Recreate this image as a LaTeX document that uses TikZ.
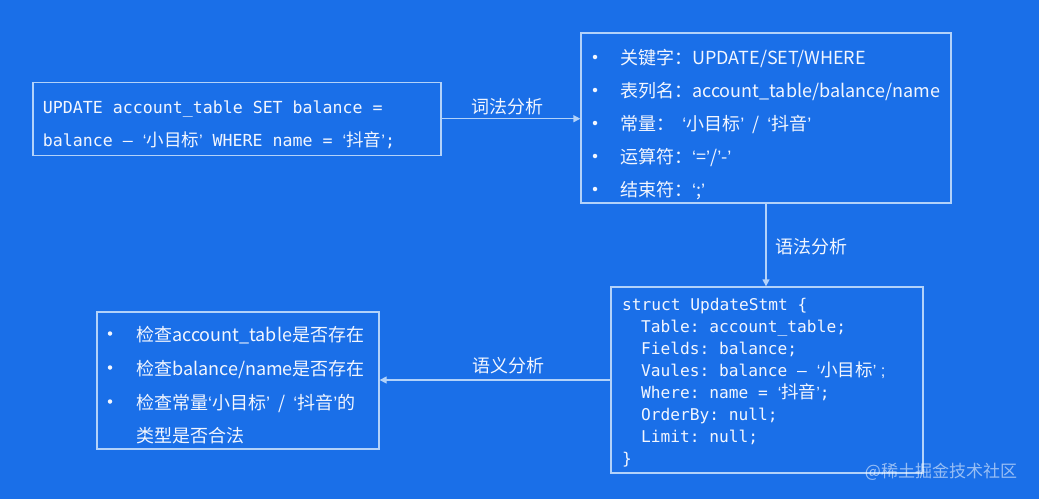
\documentclass[tikz,border=0pt]{standalone}
\usepackage{fontspec}
\setmainfont{Noto Sans CJK SC}
\setmonofont{DejaVu Sans Mono}
\newfontfamily\cjk{Noto Sans CJK SC}
\newfontfamily\qf{Liberation Sans}
\newcommand\qo{{\qf ‘}}
\newcommand\qc{{\qf ’}}
\newcommand\cj[1]{{\cjk\fontsize{17.5}{20}\selectfont #1}}
\usetikzlibrary{arrows.meta}
\definecolor{bg}{RGB}{26,111,232}
\definecolor{edge}{RGB}{178,210,250}
\definecolor{txt}{RGB}{242,246,255}
\begin{document}
\begin{tikzpicture}[x=1pt,y=-1pt,
  box/.style={draw=edge, line width=1.3pt, inner sep=0pt},
  mono/.style={anchor=base west, text=txt, font=\fontsize{16.2}{20}\ttfamily, inner sep=0pt},
  sans/.style={anchor=base west, text=txt, font=\fontsize{18}{22}\selectfont, inner sep=0pt},
  lbl/.style={text=txt, font=\fontsize{18}{22}\selectfont, inner sep=0pt},
  arr/.style={draw=edge, line width=1.3pt, -{Triangle[length=7pt,width=7pt]}},
  dot/.style={circle, fill=txt, inner sep=0pt, minimum size=4.5pt}]
\fill[bg] (0,0) rectangle (1039,499);
\useasboundingbox (0,0) rectangle (1039,499);

% boxes
\node[box, minimum width=408pt, minimum height=73pt] (b1) at (237,118.7) {};
\node[box, minimum width=370pt, minimum height=170pt] (b2) at (766,118) {};
\node[box, minimum width=312pt, minimum height=186pt] (b3) at (767,380) {};
\node[box, minimum width=282pt, minimum height=137pt] (b4) at (238,380.5) {};

% box 1 text
\node[mono, font=\fontsize{16.6}{20}\ttfamily] (b1a) at (42.7,113) {UPDATE account\_table SET balance =};
\node[mono, font=\fontsize{16.6}{20}\ttfamily] (b1b) at (42.7,146) {balance – \qo\cj{小目标}\qc{} WHERE name = \qo\cj{抖音}\qc;};

% box 2 text
\foreach \y/\n in {64/1,97/2,130/3,163/4,196/5} \node[dot] (b2d\n) at (595,\y-7) {};
\node[sans] (b2a) at (620,64) {关键字：UPDATE/SET/WHERE};
\node[sans] (b2b) at (620,97) {表列名：account\_table/balance/name};
\node[sans] (b2c) at (620,130) {常量：\ \ \qo 小目标\qc\ \ /\ \ \qo 抖音\qc};
\node[sans] (b2e) at (620,163) {运算符：\qo=\qc/\qc-\qc};
\node[sans] (b2f) at (620,196) {结束符：\qo;\qc};

% box 3 text
\node[mono] (b3a) at (622,310) {struct UpdateStmt \{};
\node[mono] (b3b) at (641,332) {Table: account\_table;};
\node[mono] (b3c) at (641,354) {Fields: balance;};
\node[mono] (b3d) at (641,376) {Vaules: balance – \qo\cj{小目标}\qc{\qf\ ;}};
\node[mono] (b3e) at (641,398) {Where: name = \qo\cj{抖音}\qc;};
\node[mono] (b3f) at (641,420) {OrderBy: null;};
\node[mono] (b3g) at (641,442) {Limit: null;};
\node[mono] (b3h) at (622,464) {\}};

% box 4 text
\foreach \y/\n in {341/1,375/2,409/3} \node[dot] (b4d\n) at (110,\y-7.5) {};
\node[sans] (b4a) at (136,341) {检查account\_table是否存在};
\node[sans] (b4b) at (136,375) {检查balance/name是否存在};
\node[sans] (b4c) at (136,409) {检查常量\qo 小目标\qc\ \ /\ \ \qo 抖音\qc 的};
\node[sans] (b4e) at (136,442) {类型是否合法};

% connectors
\draw[arr] (b1.east) -- (b1.east -| b2.west);
\draw[arr] (b2.south) -- (b2.south |- b3.north);
\draw[arr] (b3.west) -- (b3.west -| b4.east);

% labels
\node[lbl] (l1) at (507.5,106.5) {词法分析};
\node[lbl] (l2) at (811,247) {语法分析};
\node[lbl] (l3) at (508,366) {语义分析};

% watermark
\node[font=\fontsize{17}{20}\selectfont, text=white, opacity=0.55, inner sep=0pt] (wm) at (941,472) {@稀土掘金技术社区};
\end{tikzpicture}
\end{document}
